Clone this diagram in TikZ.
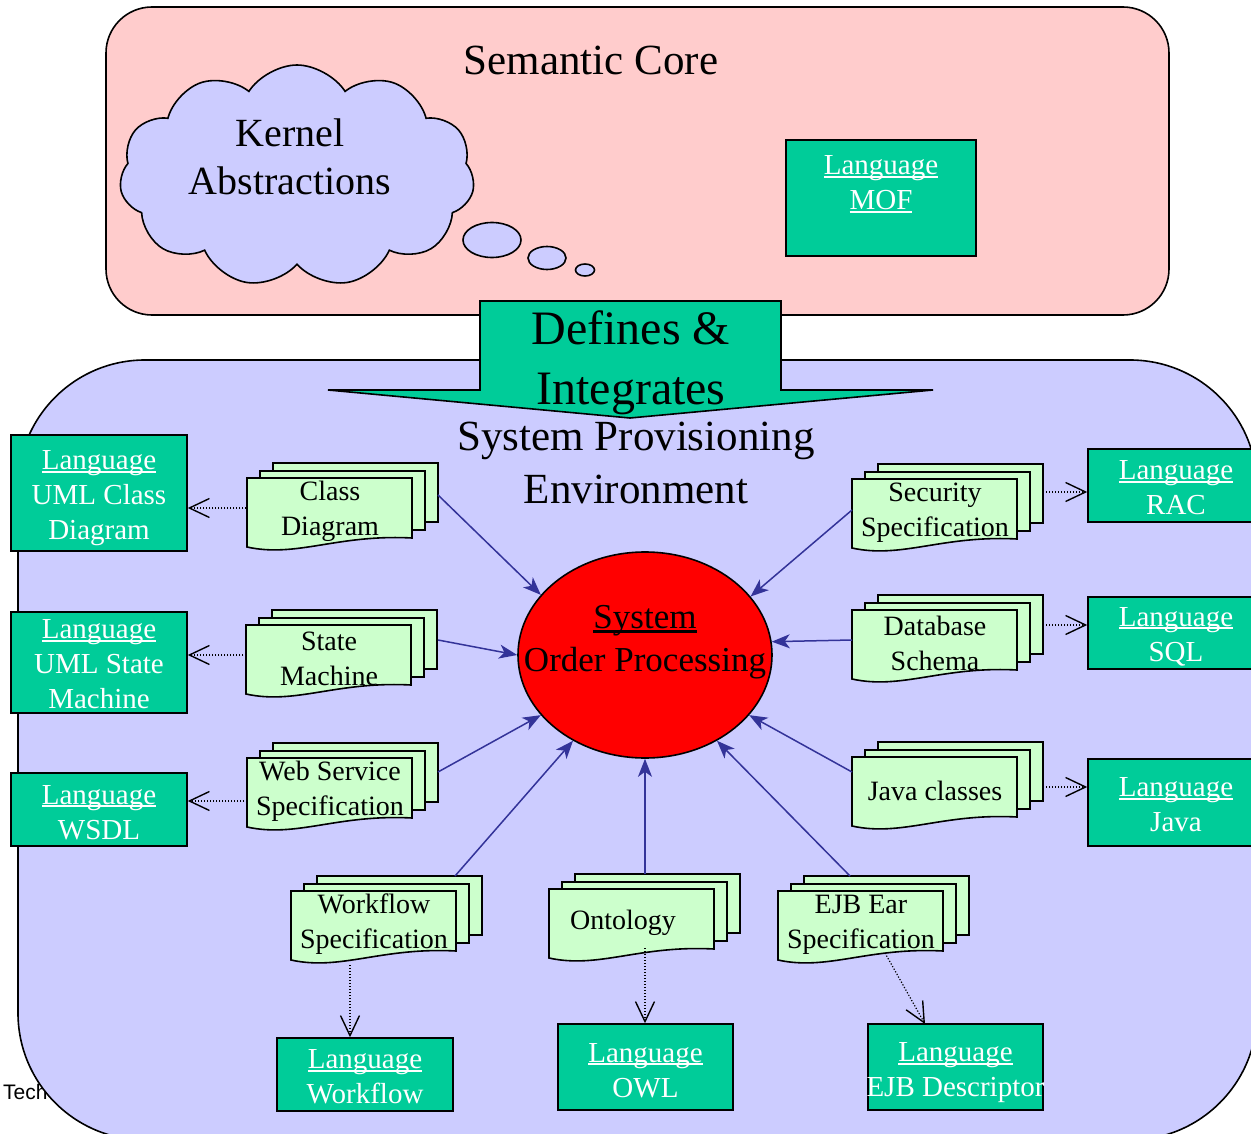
\documentclass[tikz,border=0pt]{standalone}
\usepackage{fontspec}
\setmainfont{Liberation Serif}
\newfontfamily\arialfont{Liberation Sans}
\usetikzlibrary{shapes.geometric,shapes.symbols,arrows.meta}

\definecolor{corepink}{HTML}{FFCCCC}
\definecolor{lavender}{HTML}{CCCCFF}
\definecolor{langgreen}{HTML}{00CC99}
\definecolor{docgreen}{HTML}{CCFFCC}
\definecolor{linkblue}{HTML}{333399}

\tikzset{
  outline/.style={draw=black, line width=1.6pt},
  boxshape/.style={outline, fill=langgreen, inner sep=0pt},
  langtext/.style={text=white, align=center, inner sep=0pt, font=\fontsize{29}{35}\selectfont},
  docpage/.style={draw=black, line width=1.6pt, fill=docgreen, line join=miter},
  doctext/.style={align=center, inner sep=0pt, font=\fontsize{28}{35}\selectfont},
  feeds/.style={draw=linkblue, line width=1.5pt, -{Stealth[length=18pt,width=14pt,inset=5pt]}},
  maps/.style={draw=black, line width=1.2pt, dash pattern=on 1.2pt off 1.8pt,
    -{Straight Barb[length=20pt,width=19pt,line width=1.4pt]}},
}

% heavier underline, like a hyperlink
\newsavebox\ulbox
\newcommand\ulword[1]{\sbox\ulbox{#1}\rlap{\rule[-0.11em]{\wd\ulbox}{0.07em}}\usebox\ulbox}

% a stack of three documents; #2 = text x offset, #3,#4 = top-left corner of the front page
\newcommand\docstack[5][83]{%
  \draw[docpage] (#3+26,#4-15) rectangle (#3+191,#4+44);
  \draw[docpage] (#3+13,#4-7) rectangle (#3+178,#4+52);
  \draw[docpage] (#3,#4) -- (#3+165,#4) -- (#3+165,#4+60)
     .. controls (#3+90,#4+56) and (#3+50,#4+80) .. (#3,#4+69) -- cycle;
  \node[doctext] (#2) at (#3+#1,#4+33.5) {#5};
}

% a language box: name, centre x, centre y, width, height, text centre y, text
\newcommand\langbox[7]{%
  \node[boxshape, minimum width=#4pt, minimum height=#5pt] (#1) at (#2,#3) {};
  \node[langtext] (#1-t) at (#2,#6) {#7};
}

\begin{document}
\begin{tikzpicture}[x=1pt, y=-1pt]
\useasboundingbox (0,0) rectangle (1251,1134);
\clip (0,0) rectangle (1251,1134);

% ---------- semantic core ----------
\draw[outline, fill=corepink, rounded corners=46pt] (106,7) rectangle (1169,315);
\node[inner sep=0, font=\fontsize{43}{50}\selectfont] (coreTitle) at (591,60) {Semantic Core};

\node[cloud, cloud puffs=11, cloud puff arc=115, aspect=1.6, outline, fill=lavender,
      minimum width=355pt, minimum height=222pt, inner sep=0] (kernel) at (297,176) {};
\node[align=center, inner sep=0, font=\fontsize{40}{48}\selectfont] (kernelText) at (290,157)
  {Kernel\\Abstractions};
\node[ellipse, outline, fill=lavender, minimum width=58pt, minimum height=35pt, inner sep=0] (bubA) at (492,240) {};
\node[ellipse, outline, fill=lavender, minimum width=38pt, minimum height=23pt, inner sep=0] (bubB) at (547,258) {};
\node[ellipse, outline, fill=lavender, minimum width=19pt, minimum height=12pt, inner sep=0] (bubC) at (585,270) {};

\langbox{mof}{881}{198}{190}{116}{184.5}{\ulword{Language}\\\ulword{MOF}}

% ---------- footer text partly hidden by the environment ----------
\node[anchor=west, inner sep=0, font=\arialfont\fontsize{21}{25}\selectfont] (tech) at (3,1092) {Tech};

% ---------- system provisioning environment ----------
\draw[outline, fill=lavender, rounded corners=127pt] (18,360) rectangle (1257,1140);

% defines & integrates arrow
\draw[outline, fill=langgreen, line join=miter]
  (480,301) -- (781,301) -- (781,390) -- (933,390) -- (630,418) -- (328,390) -- (480,390) -- cycle;
\node[align=center, inner sep=0, font=\fontsize{48}{60}\selectfont] (defines) at (631,363)
  {Defines \&\\Integrates};

\node[align=center, inner sep=0, font=\fontsize{43}{53}\selectfont] (envTitle) at (636,463)
  {System Provisioning\\Environment};

% central system
\node[ellipse, outline, fill=red, minimum width=254pt, minimum height=206pt, inner sep=0] (sys) at (645,655) {};
\node[align=center, inner sep=0, font=\fontsize{35}{43}\selectfont] (sysText) at (645,642.5)
  {\ulword{System}\\Order Processing};

% language boxes
\langbox{lcd}{99}{493}{176}{116}{498}{\ulword{Language}\\UML Class\\Diagram}
\langbox{lsm}{99}{662.5}{176}{101}{664.5}{\ulword{Language}\\UML State\\Machine}
\langbox{lws}{99}{809.5}{176}{73}{812.5}{\ulword{Language}\\WSDL}
\langbox{lrac}{1176}{485.5}{176}{73}{487.5}{\ulword{Language}\\RAC}
\langbox{lsql}{1176}{633}{176}{72}{636.5}{\ulword{Language}\\SQL}
\langbox{ljava}{1176}{802.5}{176}{87}{805}{\ulword{Language}\\Java}
\langbox{lwf}{365}{1074.5}{176}{73}{1077}{\ulword{Language}\\Workflow}
\langbox{lowl}{645.5}{1067}{175}{86}{1070.5}{\ulword{Language}\\OWL}
\langbox{lejb}{955.5}{1067}{175}{86}{1072.5}{\ulword{Language}\\EJB Descriptor}

% document stacks
\docstack{cd}{247}{478}{Class\\Diagram}
\docstack{sm}{246}{625}{State\\Machine}
\docstack{ws}{247}{758}{Web Service\\Specification}
\docstack{wf}{291}{891}{Workflow\\Specification}
\docstack[74]{on}{549}{889}{Ontology}
\docstack{ej}{778}{891}{EJB Ear\\Specification}
\docstack{ss}{852}{479}{Security\\Specification}
\docstack{db}{852}{610}{Database\\Schema}
\docstack{jc}{852}{757}{Java classes}

% connector end points on the stacks
\coordinate (cdOut) at (438,495);
\coordinate (smOut) at (438,640);
\coordinate (wsOut) at (438,772);
\coordinate (wfOut) at (455,876);
\coordinate (onOut) at (645,874);
\coordinate (ejOut) at (850,876);
\coordinate (jcOut) at (852,772);
\coordinate (dbOut) at (852,640);
\coordinate (ssOut) at (852,510);

\coordinate (cdIn) at (246,508);
\coordinate (smIn) at (246,655);
\coordinate (wsIn) at (247,801);
\coordinate (ssIn) at (1043,492);
\coordinate (dbIn) at (1043,625);
\coordinate (jcIn) at (1043,787);
\coordinate (wfIn) at (350,965);
\coordinate (onIn) at (645,948);
\coordinate (ejIn) at (885,953);
\coordinate (ejTarget) at (925,1024);

% artefacts feeding the system
\draw[feeds] (cdOut) -- (sys.150);
\draw[feeds] (smOut) -- (sys.180);
\draw[feeds] (wsOut) -- (sys.210);
\draw[feeds] (wfOut) -- (sys.230);
\draw[feeds] (onOut) -- (sys.270);
\draw[feeds] (ejOut) -- (sys.310);
\draw[feeds] (jcOut) -- (sys.330);
\draw[feeds] (dbOut) -- (sys.6);
\draw[feeds] (ssOut) -- (sys.29);

% artefacts mapped to their languages
\draw[maps] (cdIn) -- (cdIn -| lcd.east);
\draw[maps] (smIn) -- (smIn -| lsm.east);
\draw[maps] (wsIn) -- (wsIn -| lws.east);
\draw[maps] (ssIn) -- (ssIn -| lrac.west);
\draw[maps] (dbIn) -- (dbIn -| lsql.west);
\draw[maps] (jcIn) -- (jcIn -| ljava.west);
\draw[maps] (wfIn) -- (wfIn |- lwf.north);
\draw[maps] (onIn) -- (onIn |- lowl.north);
\draw[maps] (ejIn) -- (ejTarget);

\end{tikzpicture}
\end{document}
